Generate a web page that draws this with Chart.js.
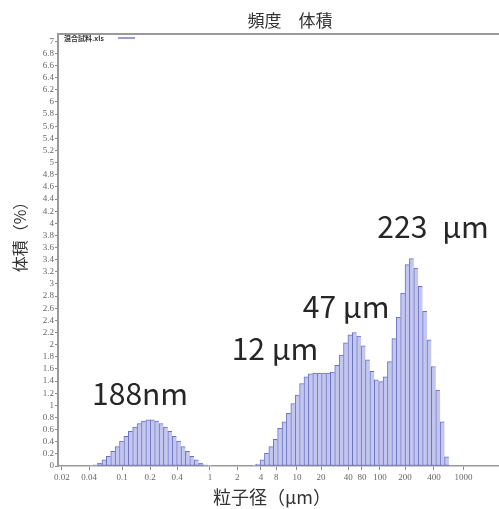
<!DOCTYPE html>
<html>
<head>
<meta charset="utf-8">
<script src="https://cdn.jsdelivr.net/npm/chart.js@4.4.1/dist/chart.umd.min.js"></script>
<style>
  html, body { margin: 0; padding: 0; background: #fff; }
  #wrap { width: 499px; height: 509px; }
</style>
</head>
<body>
<div id="wrap"><canvas id="c" width="499" height="509"></canvas></div>
<script>
// Texts
const chartTitle = '頻度　体積';
const xTitle = '粒子径（μm）';
const yTitle = '体積（%）';
const seriesName = '混合試料.xls';

// Size channels: the x axis counts channels (bins) of equal width
const xTickLabels = ['0.02', '0.04', '0.1', '0.2', '0.4', '1', '2', '4', '8', '10', '20', '40', '80', '100', '200', '400', '1000'];
const xTickBins = [0.9, 7.1, 14.6, 21.0, 27.1, 34.6, 40.8, 46.2, 49.7, 54.4, 59.9, 66.1, 69.2, 73.3, 79.0, 85.6, 92.3];

// Volume frequency (%) per channel, fine mode (~188 nm)
const fineStart = 7;
const fineVolume = [0.01, 0.02, 0.05, 0.10, 0.16, 0.24, 0.32, 0.41, 0.49, 0.57, 0.64, 0.70, 0.74, 0.76,
                    0.76, 0.74, 0.70, 0.64, 0.57, 0.49, 0.41, 0.32, 0.24, 0.16, 0.10, 0.05, 0.02, 0.01];

// Volume frequency (%) per channel, coarse modes (12 / 47 / 223 µm)
const coarseStart = 44;
const coarseVolume = [0.01, 0.03, 0.10, 0.21, 0.32, 0.44, 0.62, 0.73, 0.87, 1.03, 1.17, 1.36, 1.47,
                      1.52, 1.53, 1.53, 1.53, 1.53, 1.55, 1.66, 1.83, 2.03, 2.16, 2.20, 2.14, 1.98,
                      1.75, 1.56, 1.42, 1.39, 1.47, 1.72, 2.10, 2.45, 2.85, 3.32, 3.42, 3.26, 2.96,
                      2.55, 2.08, 1.64, 1.25, 0.73, 0.15];

// Peak annotations
const peakLabels = ['188nm', '12 μm', '47 μm', '223\u2002μm'];

const points = [];
fineVolume.forEach((v, i) => points.push({ x: fineStart + i + 0.5, y: v }));
coarseVolume.forEach((v, i) => points.push({ x: coarseStart + i + 0.5, y: v }));

const CJK = '"Noto Sans CJK JP", "Noto Sans", sans-serif';

const decor = {
  id: 'decor',
  beforeDatasetsDraw(chart) {
    const { ctx, chartArea } = chart;
    ctx.save();
    ctx.strokeStyle = '#9a9a9a';
    ctx.lineWidth = 2;
    ctx.beginPath();
    ctx.moveTo(chartArea.left - 1, chartArea.top);
    ctx.lineTo(chart.width, chartArea.top);
    ctx.stroke();
    ctx.restore();
  },
  afterDraw(chart) {
    const { ctx, scales } = chart;
    const xs = scales.x, ys = scales.y;
    ctx.save();
    ctx.fillStyle = '#333';
    ctx.textAlign = 'center';
    ctx.textBaseline = 'middle';

    ctx.font = '17px ' + CJK;
    ctx.fillText(chartTitle, 290, 21);
    ctx.font = '18px ' + CJK;
    ctx.fillText(xTitle, 272, 497);

    ctx.save();
    ctx.translate(20, 233);
    ctx.rotate(-Math.PI / 2);
    ctx.font = '16px ' + CJK;
    ctx.fillText(yTitle, 0, 0);
    ctx.restore();

    // legend inside the plot
    ctx.textAlign = 'left';
    ctx.font = 'bold 7px ' + CJK;
    ctx.fillStyle = '#333';
    ctx.fillText(seriesName, 64, 38);
    ctx.strokeStyle = '#9c9cd4';
    ctx.lineWidth = 2;
    ctx.beginPath();
    ctx.moveTo(118, 38);
    ctx.lineTo(135, 38);
    ctx.stroke();

    // peak labels, anchored in channel / percent units
    const anchors = [[18.7, 1.0], [49.4, 1.74], [65.6, 2.44], [85.4, 3.76]];
    ctx.font = '30px ' + CJK;
    ctx.fillStyle = '#262626';
    ctx.textAlign = 'center';
    ctx.textBaseline = 'alphabetic';
    peakLabels.forEach((t, i) => {
      ctx.fillText(t, xs.getPixelForValue(anchors[i][0]), ys.getPixelForValue(anchors[i][1]));
    });
    ctx.restore();
  }
};

new Chart(document.getElementById('c'), {
  type: 'bar',
  data: {
    datasets: [{
      label: seriesName,
      data: points,
      backgroundColor: '#c3c6ee',
      borderColor: '#6a71c2',
      borderWidth: { top: 1, left: 1, right: 0, bottom: 1 },
      borderSkipped: false,
      barPercentage: 1,
      categoryPercentage: 1
    }]
  },
  options: {
    responsive: false,
    animation: false,
    devicePixelRatio: 1,
    layout: { padding: { top: 34, left: 0, right: 0, bottom: 0 } },
    plugins: {
      legend: { display: false },
      tooltip: { enabled: false },
      title: { display: false }
    },
    scales: {
      x: {
        type: 'linear',
        min: 0,
        max: 100.4,
        offset: false,
        grid: { offset: false, drawOnChartArea: false, drawTicks: true, tickLength: 4, color: '#8a8a8a' },
        border: { color: '#9a9a9a', width: 1.5 },
        ticks: {
          autoSkip: false,
          maxRotation: 0,
          padding: 2,
          color: '#666',
          font: { family: '"Liberation Serif", serif', size: 9 },
          callback: (v, i) => xTickLabels[i]
        },
        afterBuildTicks: s => { s.ticks = xTickBins.map(v => ({ value: v })); },
        afterFit: s => { s.height = 43; }
      },
      y: {
        min: 0,
        max: 7.12,
        ticks: {
          stepSize: 0.2,
          includeBounds: false,
          autoSkip: false,
          padding: 1,
          color: '#666',
          font: { family: '"Liberation Serif", serif', size: 9 },
          callback: v => String(Math.round(v * 10) / 10)
        },
        grid: { drawOnChartArea: false, tickLength: 3, color: '#8a8a8a' },
        border: { color: '#9a9a9a', width: 2 },
        afterFit: s => { s.width = 58; }
      }
    }
  },
  plugins: [decor]
});
</script>
</body>
</html>
